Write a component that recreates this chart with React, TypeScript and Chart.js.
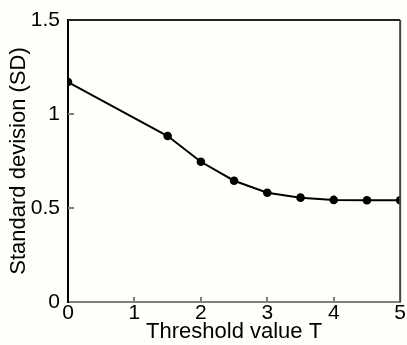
import React, { useEffect, useRef } from "react";
import { Chart, registerables } from "chart.js";

Chart.register(...registerables);

const thresholds = [0, 1.5, 2, 2.5, 3, 3.5, 4, 4.5, 5];
const sdValues = [1.17, 0.883, 0.746, 0.645, 0.581, 0.555, 0.543, 0.541, 0.541];
const xTicks = [0, 1, 2, 3, 4, 5];
const yTicks = [0, 0.5, 1, 1.5];
const xTitle = "Threshold value T";
const yTitle = "Standard devision (SD)";

const framePlugin = {
  id: "frame",
  afterDraw(chart: any) {
    const { ctx, chartArea: a, scales } = chart;
    ctx.save();
    ctx.strokeStyle = "#808080";
    ctx.lineWidth = 2;
    for (const v of xTicks) {
      if (v === 0 || v === 5) continue;
      const px = Math.round(scales.x.getPixelForValue(v));
      ctx.beginPath();
      ctx.moveTo(px, a.bottom);
      ctx.lineTo(px, a.bottom - 5);
      ctx.stroke();
    }
    for (const v of yTicks) {
      if (v === 0 || v === 1.5) continue;
      const py = Math.round(scales.y.getPixelForValue(v));
      ctx.beginPath();
      ctx.moveTo(a.left, py);
      ctx.lineTo(a.left + 6, py);
      ctx.stroke();
    }
    ctx.lineWidth = 2;
    ctx.strokeStyle = "#222";
    ctx.beginPath();
    ctx.moveTo(a.left, a.top);
    ctx.lineTo(a.right, a.top);
    ctx.stroke();
    ctx.strokeStyle = "#444";
    ctx.beginPath();
    ctx.moveTo(a.right, a.top);
    ctx.lineTo(a.right, a.bottom);
    ctx.stroke();
    ctx.restore();
  },
};

const bgPlugin = {
  id: "bg",
  beforeDraw(chart: any) {
    const { ctx, width, height } = chart;
    ctx.save();
    ctx.fillStyle = "#fffffa";
    ctx.fillRect(0, 0, width, height);
    ctx.restore();
  },
};

export default function App() {
  const ref = useRef<HTMLCanvasElement>(null);
  useEffect(() => {
    document.body.style.margin = "0";
    const family = "'Liberation Sans', Arial, sans-serif";
    const tickFont = { family, size: 21, lineHeight: 1 };
    const titleFont = { family, size: 22, lineHeight: 1 };
    const chart = new Chart(ref.current!, {
      type: "scatter",
      data: {
        datasets: [
          {
            data: thresholds.map((t, i) => ({ x: t, y: sdValues[i] })),
            showLine: true,
            borderColor: "#000",
            backgroundColor: "#000",
            borderWidth: 2,
            pointRadius: 4.3,
            pointBackgroundColor: "#000",
            pointBorderWidth: 0,
          },
        ],
      },
      options: {
        animation: false,
        responsive: false,
        layout: { padding: { top: 20, right: 5, left: 0, bottom: 0 } },
        plugins: { legend: { display: false }, tooltip: { enabled: false } },
        scales: {
          x: {
            type: "linear",
            min: 0,
            max: 5,
            afterBuildTicks: (s: any) => {
              s.ticks = xTicks.map((v) => ({ value: v }));
            },
            afterFit: (s: any) => {
              s.height = 43;
            },
            grid: { display: false, drawTicks: false, tickLength: 0 },
            border: { display: true, color: "#808080", width: 2 },
            ticks: { font: tickFont, color: "#000", padding: 1, maxRotation: 0 },
            title: { display: true, text: xTitle, font: titleFont, color: "#000", padding: { top: 0, bottom: 2 } },
          },
          y: {
            type: "linear",
            min: 0,
            max: 1.5,
            afterBuildTicks: (s: any) => {
              s.ticks = yTicks.map((v) => ({ value: v }));
            },
            afterFit: (s: any) => {
              s.width = 68;
            },
            grid: { display: false, drawTicks: false, tickLength: 0 },
            border: { display: true, color: "#000", width: 2 },
            ticks: { font: tickFont, color: "#000", padding: 8, callback: (v: any) => String(v) },
            title: { display: true, text: yTitle, font: titleFont, color: "#000", padding: { top: 8, bottom: 0 } },
          },
        },
      },
      plugins: [bgPlugin, framePlugin],
    });
    return () => chart.destroy();
  }, []);
  return <canvas ref={ref} width={407} height={345} style={{ display: "block" }} />;
}
